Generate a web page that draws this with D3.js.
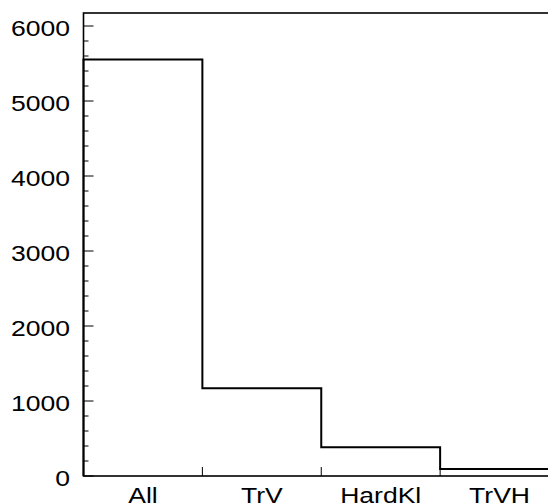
<!DOCTYPE html>
<html>
<head>
<meta charset="utf-8">
<script src="https://cdn.jsdelivr.net/npm/d3@7"></script>
<style>
  html, body { margin: 0; padding: 0; background: #fff; overflow: hidden; }
  svg { display: block; }
  text { font-family: "Liberation Sans", Arial, Helvetica, sans-serif; fill: #000; }
</style>
</head>
<body>
<script>
// Event counts per selection stage
const categories = ["All", "TrV", "HardKl", "TrVH"];
const counts = [5553, 1170, 383, 95];
const yTickValues = [0, 1000, 2000, 3000, 4000, 5000, 6000];

const W = 548, H = 504;
const frame = { left: 83.5, top: 13, bottom: 476, right: 559 };
const fontSize = 22.3, stretch = 1.19;

const svg = d3.select("body").append("svg")
  .attr("width", W).attr("height", H);

const x = d3.scaleBand()
  .domain(categories)
  .range([frame.left, frame.right])
  .paddingInner(0).paddingOuter(0);

const y = d3.scaleLinear()
  .domain([0, 6000])
  .range([frame.bottom, 26]);

// Frame
svg.append("rect")
  .attr("x", frame.left).attr("y", frame.top)
  .attr("width", frame.right - frame.left)
  .attr("height", frame.bottom - frame.top)
  .attr("fill", "none").attr("stroke", "#000").attr("stroke-width", 1.6);

// Y axis ticks (drawn inward), major every 1000, minor every 200
const yMax = y.invert(frame.top);
const minor = d3.range(0, yMax, 200);
svg.append("g").selectAll("line").data(minor).join("line")
  .attr("x1", frame.left)
  .attr("x2", d => frame.left + (d % 1000 === 0 ? 10 : 5))
  .attr("y1", d => y(d)).attr("y2", d => y(d))
  .attr("stroke", "#000").attr("stroke-width", 1);

svg.append("g").selectAll("text").data(yTickValues).join("text")
  .attr("transform", d => `translate(70,${y(d) + 10}) scale(${stretch},1)`)
  .attr("text-anchor", "end")
  .style("font-size", fontSize + "px")
  .text(d => d);

// X axis ticks at bin edges
const edges = categories.slice(1).map(c => x(c));
svg.append("g").selectAll("line").data(edges).join("line")
  .attr("x1", d => d).attr("x2", d => d)
  .attr("y1", frame.bottom).attr("y2", frame.bottom - 9)
  .attr("stroke", "#000").attr("stroke-width", 1);

svg.append("g").selectAll("text").data(categories).join("text")
  .attr("transform", d => `translate(${x(d) + x.bandwidth() / 2},503) scale(${stretch},1)`)
  .attr("text-anchor", "middle")
  .style("font-size", fontSize + "px")
  .text(d => d);

// Histogram outline
const pts = [[x(categories[0]), y(0)]];
categories.forEach((c, i) => {
  pts.push([x(c), y(counts[i])]);
  pts.push([x(c) + x.bandwidth(), y(counts[i])]);
});
pts.push([x(categories[categories.length - 1]) + x.bandwidth(), y(0)]);

svg.append("path")
  .attr("d", d3.line()(pts))
  .attr("fill", "none")
  .attr("stroke", "#000")
  .attr("stroke-width", 2);
</script>
</body>
</html>
